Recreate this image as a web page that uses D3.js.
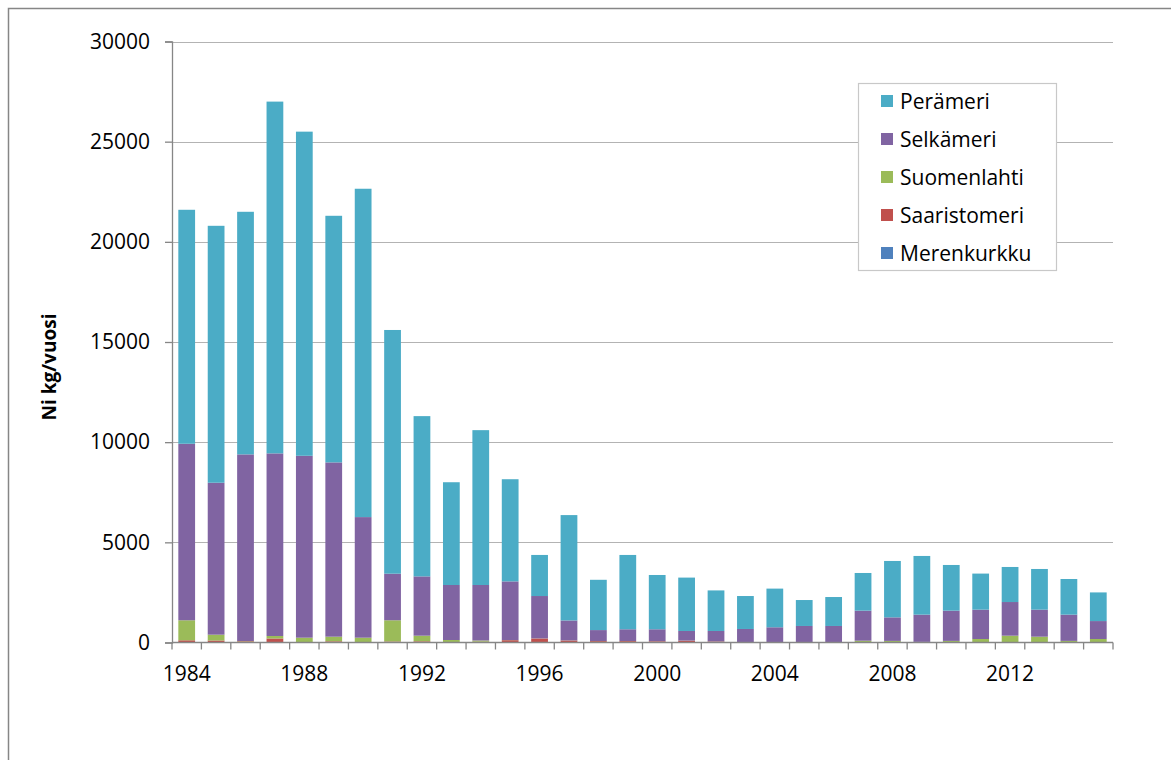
<!DOCTYPE html>
<html>
<head>
<meta charset="utf-8">
<script src="https://cdn.jsdelivr.net/npm/d3@7/dist/d3.min.js"></script>
<style>
  html, body { margin: 0; padding: 0; background: #fff; }
  svg { display: block; }
  text { font-family: "Open Sans", "Noto Sans", sans-serif; fill: #000; }
</style>
</head>
<body>
<svg id="chart" width="1171" height="760"></svg>
<script>
// ---- data ----
const years = [1984,1985,1986,1987,1988,1989,1990,1991,1992,1993,1994,1995,1996,1997,1998,1999,
               2000,2001,2002,2003,2004,2005,2006,2007,2008,2009,2010,2011,2012,2013,2014,2015];
const seriesNames = ["Merenkurkku","Saaristomeri","Suomenlahti","Selkämeri","Perämeri"];
const merenkurkku = [15,10,10,15,10,10,10,10,10,5,5,10,10,10,10,10,10,10,10,10,10,10,10,10,10,10,10,10,10,10,10,10];
const saaristomeri = [95,90,50,185,10,50,5,40,50,15,35,105,190,90,60,60,50,80,40,10,10,10,10,10,5,5,5,5,5,5,5,5];
const suomenlahti = [1000,290,15,125,220,230,225,1060,280,105,60,5,5,5,5,5,5,5,5,5,5,5,5,70,65,15,65,160,325,275,65,160];
const selkameri = [8810,7585,9315,9115,9080,8700,6020,2325,2960,2745,2770,2930,2115,995,545,585,
                   595,480,520,650,735,800,800,1500,1175,1360,1510,1465,1680,1350,1310,895];
const perameri = [11680,12825,12110,17560,16180,12310,16390,12165,8000,5130,7730,5100,2050,5260,2510,3710,
                  2710,2665,2025,1645,1930,1295,1445,1880,2815,2930,2280,1800,1750,2030,1780,1430];
const yTicks = [0,5000,10000,15000,20000,25000,30000];
const xLabelYears = [1984,1988,1992,1996,2000,2004,2008,2012];
const colors = {
  "Perämeri": "#4BACC6",
  "Selkämeri": "#8064A2",
  "Suomenlahti": "#9BBB59",
  "Saaristomeri": "#C0504D",
  "Merenkurkku": "#4F81BD"
};
const legendOrder = ["Perämeri","Selkämeri","Suomenlahti","Saaristomeri","Merenkurkku"];

// ---- build table ----
const valuesBySeries = {
  "Merenkurkku": merenkurkku, "Saaristomeri": saaristomeri, "Suomenlahti": suomenlahti,
  "Selkämeri": selkameri, "Perämeri": perameri
};
const table = years.map((y, i) => {
  const row = { year: y };
  seriesNames.forEach(s => row[s] = valuesBySeries[s][i]);
  return row;
});

const svg = d3.select("#chart");

// outer frame
svg.append("rect").attr("x", 8.5).attr("y", 8.5).attr("width", 1200).attr("height", 800)
  .attr("fill", "none").attr("stroke", "#868686").attr("stroke-width", 1.5);

const plot = { left: 172, right: 1113, top: 41.5, bottom: 642.5 };

const x = d3.scaleBand().domain(years).range([plot.left, plot.right]).paddingInner(0.43).paddingOuter(0.215);
const xStep = d3.scaleBand().domain(years).range([plot.left, plot.right]).padding(0);
const y = d3.scaleLinear().domain([0, 30000]).range([plot.bottom, plot.top]);

// gridlines
svg.append("g").selectAll("line").data(yTicks.filter(t => t > 0)).join("line")
  .attr("x1", plot.left).attr("x2", plot.right)
  .attr("y1", d => Math.round(y(d)) + 0.5).attr("y2", d => Math.round(y(d)) + 0.5)
  .attr("stroke", "#b3b3b3").attr("stroke-width", 1.2);

// stacked bars
const stack = d3.stack().keys(seriesNames);
const stacked = stack(table);
svg.append("g").selectAll("g").data(stacked).join("g")
  .attr("fill", d => colors[d.key])
  .selectAll("rect").data(d => d).join("rect")
  .attr("x", d => x(d.data.year))
  .attr("width", x.bandwidth())
  .attr("y", d => y(d[1]))
  .attr("height", d => Math.max(0, y(d[0]) - y(d[1])));

// y axis
const yAxis = d3.axisLeft(y).tickValues(yTicks).tickSize(7).tickPadding(15).tickFormat(d3.format("d"));
const gy = svg.append("g").attr("transform", `translate(${plot.left},0)`).call(yAxis);
gy.select(".domain").attr("stroke", "#868686").attr("stroke-width", 1.3);
gy.selectAll(".tick line").attr("stroke", "#868686").attr("stroke-width", 1.3);
gy.selectAll(".tick text").attr("font-size", 21).attr("font-family", "Open Sans").attr("fill", "#000");

// x axis: ticks at band boundaries
const boundaries = years.map(yr => xStep(yr)).concat([plot.right]);
svg.append("line").attr("x1", plot.left).attr("x2", plot.right)
  .attr("y1", plot.bottom).attr("y2", plot.bottom)
  .attr("stroke", "#868686").attr("stroke-width", 1.3);
svg.append("g").selectAll("line").data(boundaries).join("line")
  .attr("x1", d => d).attr("x2", d => d)
  .attr("y1", plot.bottom).attr("y2", plot.bottom + 7)
  .attr("stroke", "#868686").attr("stroke-width", 1.3);
svg.append("g").selectAll("text").data(xLabelYears).join("text")
  .attr("x", d => x(d) + x.bandwidth() / 2)
  .attr("y", plot.bottom + 38)
  .attr("text-anchor", "middle")
  .attr("font-size", 21)
  .text(d => d);

// y axis title
svg.append("text")
  .attr("transform", `translate(56,367) rotate(-90)`)
  .attr("text-anchor", "middle")
  .attr("font-size", 19)
  .attr("font-weight", "bold")
  .text("Ni kg/vuosi");

// legend
const lg = svg.append("g");
lg.append("rect").attr("x", 858.5).attr("y", 83.5).attr("width", 198).attr("height", 187)
  .attr("fill", "#fff").attr("stroke", "#c8c8c8").attr("stroke-width", 1.2);
const items = lg.selectAll("g.item").data(legendOrder).join("g").attr("class", "item")
  .attr("transform", (d, i) => `translate(881,${101 + i * 38})`);
items.append("rect").attr("x", 0).attr("y", -6).attr("width", 12).attr("height", 12)
  .attr("fill", d => colors[d]);
items.append("text").attr("x", 19).attr("y", 0).attr("dy", "0.36em")
  .attr("font-size", 21).text(d => d);
</script>
</body>
</html>
